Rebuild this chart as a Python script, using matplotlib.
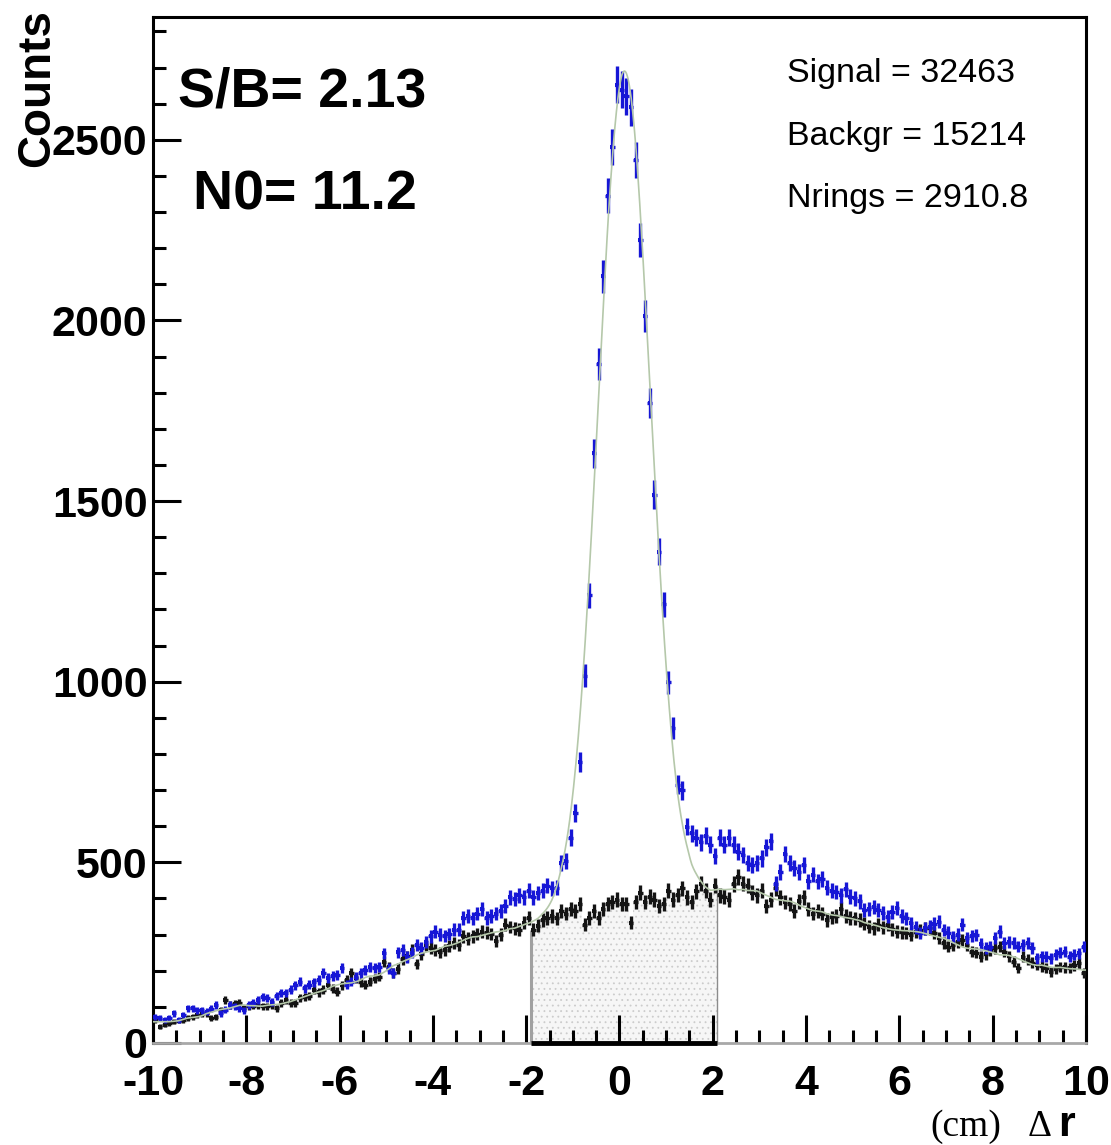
import numpy as np
import matplotlib
matplotlib.use('Agg')
import matplotlib.pyplot as plt
from matplotlib.ticker import MultipleLocator

plt.rcParams['font.family'] = ['Liberation Sans', 'DejaVu Sans']
plt.rcParams['axes.unicode_minus'] = False
plt.rcParams['hatch.linewidth'] = 0.6

x_min, x_max = -10.0, 10.0
n_bins = 200

# blue histogram, 0.1 cm bins from -10 to 10
same_event = [
    73, 68, 64, 70, 82, 64, 78, 96, 96, 91,
    91, 87, 95, 105, 82, 92, 105, 101, 96, 91,
    105, 110, 119, 128, 124, 114, 130, 138, 138, 147,
    160, 170, 151, 161, 168, 174, 193, 179, 185, 188,
    207, 161, 170, 182, 193, 202, 211, 208, 211, 248,
    206, 194, 251, 257, 238, 250, 270, 262, 280, 295,
    308, 300, 296, 302, 314, 314, 346, 352, 345, 358,
    371, 346, 352, 358, 365, 380, 403, 398, 409, 403,
    422, 403, 415, 422, 435, 428, 430, 498, 504, 568,
    637, 777, 1017, 1239, 1632, 1879, 2122, 2345, 2481, 2652,
    2638, 2620, 2590, 2445, 2223, 2013, 1771, 1518, 1360, 1214,
    998, 872, 715, 700, 599, 580, 568, 555, 574, 549,
    517, 568, 549, 568, 549, 530, 520, 498, 492, 498,
    511, 542, 558, 441, 473, 523, 498, 485, 473, 492,
    447, 466, 447, 454, 430, 422, 418, 409, 425, 405,
    400, 392, 368, 372, 377, 368, 360, 350, 362, 373,
    352, 345, 331, 320, 304, 317, 322, 330, 336, 313,
    305, 294, 300, 327, 290, 296, 299, 275, 262, 267,
    290, 308, 276, 280, 276, 267, 272, 276, 262, 234,
    240, 239, 235, 244, 250, 253, 239, 244, 248, 267,
]

# black histogram (background)
mixed_event = [
    64, 45, 50, 54, 59, 62, 64, 70, 73, 78,
    80, 82, 68, 73, 90, 119, 105, 108, 110, 96,
    101, 103, 105, 101, 101, 105, 96, 110, 119, 110,
    110, 124, 128, 130, 147, 140, 147, 161, 150, 142,
    160, 174, 193, 179, 168, 161, 170, 178, 184, 225,
    210, 194, 206, 232, 240, 257, 219, 245, 270, 263,
    258, 251, 257, 268, 276, 270, 295, 289, 295, 302,
    308, 305, 302, 283, 300, 327, 321, 318, 314, 333,
    346, 314, 325, 340, 346, 352, 345, 365, 358, 371,
    365, 384, 327, 346, 365, 346, 371, 384, 390, 397,
    384, 384, 333, 390, 416, 390, 405, 397, 378, 384,
    422, 397, 410, 428, 403, 390, 420, 441, 422, 397,
    435, 409, 405, 397, 440, 460, 441, 435, 416, 409,
    422, 378, 397, 428, 403, 390, 384, 365, 392, 403,
    371, 358, 365, 358, 340, 348, 352, 371, 352, 346,
    345, 340, 330, 322, 317, 327, 320, 327, 315, 308,
    306, 304, 300, 308, 312, 317, 317, 304, 290, 276,
    267, 272, 280, 285, 270, 253, 250, 239, 245, 257,
    262, 267, 253, 240, 225, 207, 239, 230, 222, 216,
    212, 207, 197, 205, 211, 209, 207, 215, 221, 193,
]

signal_lo, signal_hi = -1.9, 2.1

left_labels = ['S/B= 2.13', 'N0= 11.2']
right_labels = ['Signal = 32463', 'Backgr = 15214', 'Nrings = 2910.8']


def smooth(values, width=9):
    pad = width // 2
    padded = np.pad(values, pad, mode='edge')
    return np.convolve(padded, np.ones(width) / width, mode='valid')


def main():
    same = np.array(same_event, dtype=float)
    mixed = np.array(mixed_event, dtype=float)
    assert len(same) == n_bins and len(mixed) == n_bins

    edges = np.linspace(x_min, x_max, n_bins + 1)
    centers = 0.5 * (edges[:-1] + edges[1:])
    half = 0.5 * (edges[1] - edges[0])

    # fit: smooth background + gaussian peak
    bkg = smooth(mixed)
    excess = same - bkg
    sel = excess > 600
    coef = np.polyfit(centers[sel], np.log(excess[sel]), 2)
    xf = np.linspace(x_min, x_max, 1201)
    curve = np.interp(xf, centers, bkg) + np.exp(np.polyval(coef, xf))

    fig = plt.figure(figsize=(11.11, 11.45), dpi=100)
    ax = fig.add_axes([0.1377, 0.0891, 0.8398, 0.8961])

    in_sig = (centers > signal_lo) & (centers < signal_hi)
    idx = np.where(in_sig)[0]
    sig_edges = edges[idx[0]:idx[-1] + 2]
    ax.stairs(mixed[in_sig], sig_edges, baseline=0, fill=True,
              facecolor='#f6f6f6', edgecolor='#cccccc', hatch='...',
              linewidth=0, zorder=1)
    ax.vlines(sig_edges[0], 0, mixed[idx[0]], color='#a0a0a0', lw=2.2, zorder=2)
    ax.vlines(sig_edges[-1], 0, mixed[idx[-1]], color='#8c8c8c', lw=1.0, zorder=2)
    ax.hlines(0, sig_edges[0], sig_edges[-1], color='black', lw=3.5,
              zorder=6, clip_on=False)

    ax.errorbar(centers, mixed, yerr=np.sqrt(mixed), xerr=half, fmt='s',
                ms=3.2, mew=0, color='#141414', elinewidth=2.4, capsize=0,
                zorder=3)
    ax.errorbar(centers, same, yerr=np.sqrt(same), xerr=half, fmt='s',
                ms=3.2, mew=0, color='#1616d6', elinewidth=2.4, capsize=0,
                zorder=4)
    ax.plot(xf, curve, color='#b5c8aa', lw=1.2, zorder=5)

    ax.set_xlim(x_min, x_max)
    ax.set_ylim(0, 2840)

    ax.xaxis.set_major_locator(MultipleLocator(2))
    ax.xaxis.set_minor_locator(MultipleLocator(0.5))
    ax.yaxis.set_major_locator(MultipleLocator(500))
    ax.yaxis.set_minor_locator(MultipleLocator(100))

    ax.tick_params(which='both', direction='in', top=False, right=False,
                   width=2.2, labelsize=31)
    ax.tick_params(which='major', length=20)
    ax.tick_params(which='minor', length=9.5)
    ax.tick_params(axis='x', pad=15)
    ax.tick_params(axis='y', pad=4)
    for lab in ax.get_xticklabels() + ax.get_yticklabels():
        lab.set_fontweight('bold')

    for side in ['left', 'top', 'right']:
        ax.spines[side].set_linewidth(2.2)
        ax.spines[side].set_color('black')
    ax.spines['bottom'].set_linewidth(2)
    ax.spines['bottom'].set_color('#a8a8a8')

    fig.text(0.033, 0.992, 'Counts', rotation=90, ha='center', va='top',
             fontsize=33, fontweight='bold')

    fig.text(0.160, 0.9066, left_labels[0], fontsize=40, fontweight='bold',
             va='baseline')
    fig.text(0.1737, 0.8166, left_labels[1], fontsize=40, fontweight='bold',
             va='baseline')

    for lab, yb in zip(right_labels, [0.9284, 0.8734, 0.8192]):
        fig.text(0.7084, yb, lab, fontsize=24.5, va='baseline')

    fig.text(0.837, 0.008, '(cm)', fontsize=27, family='Liberation Serif',
             va='baseline')
    fig.text(0.925, 0.008, '\u0394', fontsize=27, family='Liberation Serif',
             va='baseline')
    fig.text(0.952, 0.008, 'r', fontsize=31, fontweight='bold', va='baseline')

    fig.savefig('out.png', dpi=100)
    plt.close(fig)


if __name__ == '__main__':
    main()
